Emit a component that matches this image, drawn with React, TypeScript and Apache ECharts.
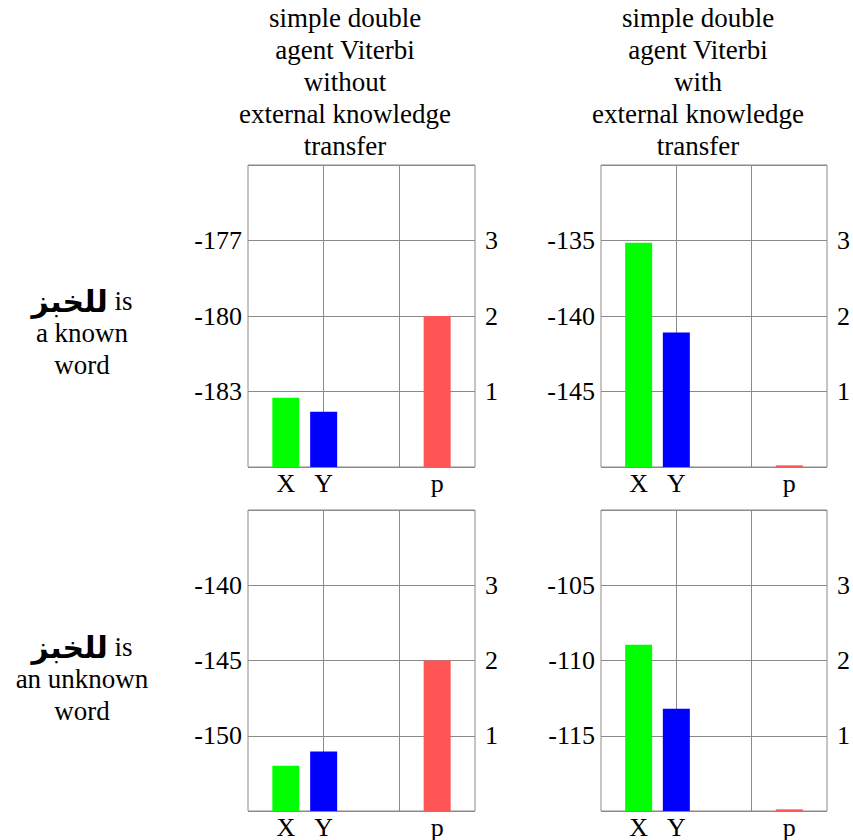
import React, { useEffect, useRef } from 'react';
import * as echarts from 'echarts';

// ---- data ----
const categories = ['', 'X', 'Y', '', '', 'p', ''];
const columnTitles = [
  'simple double\nagent Viterbi\nwithout\nexternal knowledge\ntransfer',
  'simple double\nagent Viterbi\nwith\nexternal knowledge\ntransfer',
];
const arabicWord = 'للخبز';
const rowLabelRest = ['a known\nword', 'an unknown\nword'];

// panel order: top-left, top-right, bottom-left, bottom-right
const xValues = [-183.25, -135.15, -152.0, -108.96];
const yValues = [-183.8, -141.1, -151.05, -113.2];
const pValues = [2.0, 0.022, 2.0, 0.022];
const leftMin = [-186, -150, -155, -120];
const leftMax = [-174, -130, -135, -100];
const leftInterval = [3, 5, 5, 5];
const rightMin = 0;
const rightMax = 4;
const rightInterval = 1;

const SERIF = "'Liberation Serif', 'DejaVu Serif', serif";
const GRID_COLOR = '#8a8a8a';
const gridLefts = [248, 601];
const gridTops = [165, 510];
const GW = 227;
const GH = 302;

export default function App() {
  const ref = useRef<HTMLDivElement>(null);
  useEffect(() => {
    if (!ref.current) return;
    const chart = echarts.init(ref.current, undefined, { renderer: 'svg' });

    const grids: any[] = [];
    const xAxes: any[] = [];
    const yAxes: any[] = [];
    const series: any[] = [];

    for (let i = 0; i < 4; i++) {
      const row = Math.floor(i / 2);
      const col = i % 2;
      grids.push({
        left: gridLefts[col],
        top: gridTops[row],
        width: GW,
        height: GH,
        show: true,
        borderColor: GRID_COLOR,
        borderWidth: 1,
        backgroundColor: 'transparent',
      });
      xAxes.push({
        type: 'category',
        gridIndex: i,
        data: categories,
        boundaryGap: false,
        axisLine: { show: false },
        axisTick: { show: false },
        axisLabel: {
          interval: 0,
          color: '#000',
          fontSize: 26,
          fontFamily: SERIF,
          margin: 3,
        },
        splitLine: {
          show: true,
          interval: (idx: number) => idx === 2 || idx === 4,
          lineStyle: { color: GRID_COLOR, width: 1 },
        },
      });
      yAxes.push({
        type: 'value',
        gridIndex: i,
        position: 'left',
        min: leftMin[i],
        max: leftMax[i],
        interval: leftInterval[i],
        startValue: leftMin[i],
        axisLine: { show: false },
        axisTick: { show: false },
        axisLabel: {
          showMinLabel: false,
          showMaxLabel: false,
          color: '#000',
          fontSize: 26,
          fontFamily: SERIF,
          margin: 6,
        },
        splitLine: { show: true, lineStyle: { color: GRID_COLOR, width: 1 } },
      });
      yAxes.push({
        type: 'value',
        gridIndex: i,
        position: 'right',
        min: rightMin,
        max: rightMax,
        interval: rightInterval,
        axisLine: { show: false },
        axisTick: { show: false },
        axisLabel: {
          showMinLabel: false,
          showMaxLabel: false,
          color: '#000',
          fontSize: 26,
          fontFamily: SERIF,
          margin: 10,
        },
        splitLine: { show: false },
      });
      series.push({
        type: 'bar',
        xAxisIndex: i,
        yAxisIndex: 2 * i,
        barWidth: 27,
        barGap: '-100%',
        data: categories.map((c) =>
          c === 'X'
            ? { value: xValues[i], itemStyle: { color: '#00ff00' } }
            : c === 'Y'
            ? { value: yValues[i], itemStyle: { color: '#0000ff' } }
            : '-'
        ),
      });
      series.push({
        type: 'bar',
        xAxisIndex: i,
        yAxisIndex: 2 * i + 1,
        barWidth: 27,
        barGap: '-100%',
        z: 3,
        data: categories.map((c) =>
          c === 'p' ? { value: pValues[i], itemStyle: { color: '#ff5555' } } : '-'
        ),
      });
    }

    const graphics: any[] = [];
    const titleCenters = [345, 698];
    for (let c = 0; c < 2; c++) {
      graphics.push({
        type: 'text',
        x: titleCenters[c],
        y: 2,
        style: {
          text: columnTitles[c],
          fill: '#000',
          font: `27px ${SERIF}`,
          lineHeight: 32,
          align: 'center',
          verticalAlign: 'top',
        },
      });
    }
    const rowTops = [285, 631];
    for (let r = 0; r < 2; r++) {
      graphics.push({
        type: 'text',
        x: 82,
        y: rowTops[r],
        style: {
          text: `{ar|${arabicWord}} is\n${rowLabelRest[r]}`,
          fill: '#000',
          fontFamily: SERIF,
          fontSize: 27,
          lineHeight: 32,
          align: 'center',
          verticalAlign: 'top',
          rich: {
            ar: {
              fontFamily: "'DejaVu Sans', sans-serif",
              fontWeight: 'bold',
              fontSize: 30,
              lineHeight: 32,
              fill: '#000',
            },
          },
        },
      });
    }

    chart.setOption({
      animation: false,
      backgroundColor: '#fff',
      grid: grids,
      xAxis: xAxes,
      yAxis: yAxes,
      series,
      graphic: graphics,
    });
    return () => chart.dispose();
  }, []);
  return (
    <div
      ref={ref}
      style={{ position: 'absolute', left: 0, top: 0, width: 853, height: 840 }}
    />
  );
}
